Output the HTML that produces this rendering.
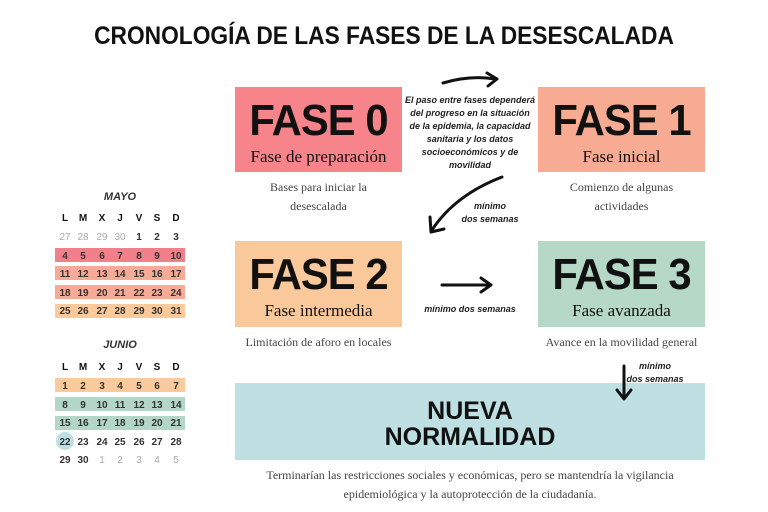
<!DOCTYPE html>
<html><head><style>
body{margin:0;width:768px;height:512px;background:#fff;position:relative;overflow:hidden;font-family:"Liberation Sans",sans-serif;}
.a{position:absolute}
h1{position:absolute;left:0;width:768px;top:22px;margin:0;text-align:center;font:bold 25px "Liberation Sans",sans-serif;letter-spacing:0px;color:#111;transform:scaleX(0.91)}
.box{position:absolute;text-align:center;color:#111}
.big{font:bold 44px "Liberation Sans",sans-serif;letter-spacing:-1px;line-height:44px;margin-top:12px;transform:scaleX(0.95)}
.sub{font:17px "Liberation Serif",serif;margin-top:4px}
.desc{position:absolute;text-align:center;font:12px "Liberation Serif",serif;color:#444;line-height:19px}
.hand{position:absolute;text-align:center;font:bold 9px "Liberation Sans",sans-serif;color:#222;line-height:13px;font-style:italic}
.cal{position:absolute;font:bold 10px "Liberation Sans",sans-serif;color:#333}
.band{position:absolute;left:55px;width:130px;height:14px}
.d{position:absolute;width:20px;text-align:center;margin-left:-10px}
</style></head><body>
<h1>CRONOLOGÍA DE LAS FASES DE LA DESESCALADA</h1>

<div class="box" style="left:235px;top:87px;width:167px;height:85px;background:#f6848a"><div class="big">FASE 0</div><div class="sub">Fase de preparación</div></div>
<div class="box" style="left:538px;top:87px;width:167px;height:85px;background:#f8ab93"><div class="big">FASE 1</div><div class="sub">Fase inicial</div></div>
<div class="box" style="left:235px;top:241px;width:167px;height:86px;background:#f9c89b"><div class="big">FASE 2</div><div class="sub">Fase intermedia</div></div>
<div class="box" style="left:538px;top:241px;width:167px;height:86px;background:#b5d8c7"><div class="big">FASE 3</div><div class="sub">Fase avanzada</div></div>
<div class="box" style="left:235px;top:383px;width:470px;height:77px;background:#bfe0e3"><div style="font:bold 25px 'Liberation Sans',sans-serif;line-height:26px;margin-top:15px">NUEVA<br>NORMALIDAD</div></div>

<div class="desc" style="left:235px;top:178px;width:167px">Bases para iniciar la<br>desescalada</div>
<div class="desc" style="left:538px;top:178px;width:167px">Comienzo de algunas<br>actividades</div>
<div class="desc" style="left:225px;top:333px;width:187px">Limitación de aforo en locales</div>
<div class="desc" style="left:525px;top:333px;width:193px">Avance en la movilidad general</div>
<div class="desc" style="left:230px;top:466px;width:480px">Terminarían las restricciones sociales y económicas, pero se mantendría la vigilancia<br>epidemiológica y la autoprotección de la ciudadanía.</div>

<div class="hand" style="left:402px;top:94px;width:136px">El paso entre fases dependerá<br>del progreso en la situación<br>de la epidemia, la capacidad<br>sanitaria y los datos<br>socioeconómicos y de<br>movilidad</div>
<div class="hand" style="left:455px;top:200px;width:70px">mínimo<br>dos semanas</div>
<div class="hand" style="left:420px;top:303px;width:100px">mínimo dos semanas</div>
<div class="hand" style="left:620px;top:360px;width:70px">mínimo<br>dos semanas</div>

<svg class="a" style="left:0;top:0" width="768" height="512">
<g stroke="#111" stroke-width="3" fill="none" stroke-linecap="round" stroke-linejoin="round">
<path d="M443 83 Q470 75 495 79"/><path d="M487 73 L497 79 L488 86"/>
<path d="M502 177 Q455 195 432 230"/><path d="M430 217 L431 232 L444 229"/>
<path d="M442 285 L490 285"/><path d="M481 278 L491 285 L481 292"/>
<path d="M624 366 L624 398"/><path d="M617 390 L624 399 L631 390"/>
</g>
</svg>

<div class="cal" style="left:0;top:0;width:240px;height:512px">
<div class="a" style="left:90px;top:191px;width:60px;text-align:center;font:bold italic 11px 'Liberation Sans',sans-serif">MAYO</div>
<div class="a" style="left:90px;top:339px;width:60px;text-align:center;font:bold italic 11px 'Liberation Sans',sans-serif">JUNIO</div>
<div class="band" style="top:248px;background:#f2808a"></div>
<div class="band" style="top:266px;background:#f7ab96"></div>
<div class="band" style="top:285px;background:#f7ab96"></div>
<div class="band" style="top:304px;background:#fbca9c"></div>
<div class="band" style="top:378px;background:#fbca9c"></div>
<div class="band" style="top:397px;background:#b3d6c6"></div>
<div class="band" style="top:416px;background:#b3d6c6"></div>
<div class="a" style="left:56px;top:432px;width:18px;height:18px;border-radius:50%;background:#bfe0e3"></div>
<div id="cal"></div>
</div>
<script>
var xs=[65,83,102,120,139,157,176],h=['L','M','X','J','V','S','D'];
var may=[[27,28,29,30,1,2,3],[4,5,6,7,8,9,10],[11,12,13,14,15,16,17],[18,19,20,21,22,23,24],[25,26,27,28,29,30,31]];
var jun=[[1,2,3,4,5,6,7],[8,9,10,11,12,13,14],[15,16,17,18,19,20,21],[22,23,24,25,26,27,28],[29,30,1,2,3,4,5]];
var s='';
function blk(y0,rows,gray){for(var i=0;i<7;i++)s+='<div class="d" style="left:'+xs[i]+'px;top:'+y0+'px;color:#111">'+h[i]+'</div>';
rows.forEach(function(r,ri){r.forEach(function(v,i){var g=gray(ri,i);s+='<div class="d" style="left:'+xs[i]+'px;top:'+(y0+19+ri*18.6)+'px;color:'+(g?'#aaa':'#333')+';font-weight:'+(g?'normal':'bold')+'">'+v+'</div>';});});}
blk(213,may,function(r,i){return r==0&&i<4});
blk(362,jun,function(r,i){return r==4&&i>1});
document.getElementById('cal').innerHTML=s;
</script>
</body></html>
